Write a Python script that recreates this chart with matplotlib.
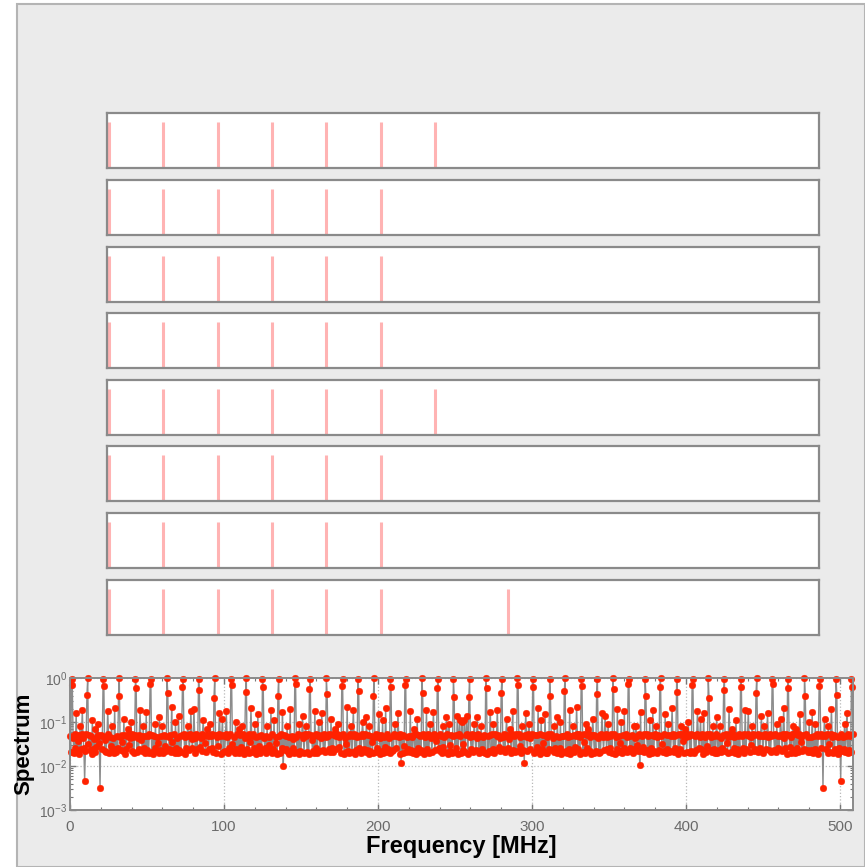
import numpy as np
import matplotlib
matplotlib.use("Agg")
import matplotlib.pyplot as plt
from matplotlib.patches import Rectangle
from matplotlib.ticker import LogLocator, MultipleLocator, NullFormatter

plt.rcParams['font.family'] = ['Liberation Sans', 'DejaVu Sans']

# ---------------- pulse trains (one list per channel) ----------------
pulse_trains = [
    [0.02, 1.01, 2.02, 3.01, 4.01, 5.02, 6.01],
    [0.02, 1.01, 2.02, 3.01, 4.01, 5.02],
    [0.02, 1.01, 2.02, 3.01, 4.01, 5.02],
    [0.02, 1.01, 2.02, 3.01, 4.01, 5.02],
    [0.02, 1.01, 2.02, 3.01, 4.01, 5.02, 6.01],
    [0.02, 1.01, 2.02, 3.01, 4.01, 5.02],
    [0.02, 1.01, 2.02, 3.01, 4.01, 5.02],
    [0.02, 1.01, 2.02, 3.01, 4.01, 5.02, 7.35],
]

# ---------------- spectrum ----------------
freq_step = 0.5  # MHz

# noise floor, in units of 1e-3
floor_milli = [
    48,21,51,23,44,20,52,25,46,22,37,50,19,47,24,53,21,43,26,49,
    22,52,20,45,31,50,23,48,19,51,24,42,21,53,27,46,20,50,34,23,
    50,24,47,19,52,22,40,21,49,25,53,20,46,29,51,22,44,20,52,24,
    21,49,26,53,20,45,23,51,35,22,48,19,50,24,47,21,53,30,43,20,
    52,22,46,20,50,27,53,21,44,24,51,19,38,49,22,52,25,47,20,51,
    23,48,20,53,24,42,21,50,19,47,26,52,22,45,33,20,51,23,49,21,
    46,20,51,28,49,22,53,19,45,24,50,21,47,36,23,52,20,48,25,44,
    20,53,23,47,21,50,32,22,52,19,46,25,51,21,48,23,53,20,42,26,
    51,21,44,20,52,24,48,19,50,27,43,22,53,20,47,34,21,51,24,49,
    24,50,19,48,26,53,21,46,22,51,20,45,28,52,23,49,19,50,37,21,
    47,22,52,21,45,20,50,25,53,19,48,31,22,46,20,51,24,53,21,44,
    20,51,27,49,23,52,19,44,21,50,24,47,20,53,35,22,48,21,52,25,
    53,19,46,22,51,29,47,20,50,23,52,21,43,25,49,20,53,22,45,30,
    22,48,20,52,24,50,21,45,33,19,51,23,47,20,52,26,44,21,50,23,
    49,24,53,21,46,19,51,22,48,25,42,20,52,27,45,21,53,19,47,22,
    21,50,23,44,20,52,26,49,21,53,19,46,24,51,38,22,48,20,52,25,
    52,20,47,25,51,22,43,19,50,23,53,21,46,30,20,49,24,52,21,45,
    25,53,21,50,19,48,24,52,22,45,27,51,20,47,23,53,19,44,32,21,
    45,22,49,20,53,31,21,47,25,52,19,50,23,46,21,51,26,48,20,53,
    20,47,24,52,21,44,23,50,19,53,22,48,36,20,51,24,45,21,52,26,
    51,25,43,19,50,22,53,20,46,27,49,21,52,24,44,20,50,33,22,48,
    23,52,20,48,26,51,21,45,19,53,24,47,20,50,29,22,53,21,46,24,
    48,21,53,23,45,20,50,34,22,52,19,47,25,51,21,49,23,43,20,52,
    19,46,22,51,24,53,20,48,26,44,21,50,19,52,23,47,37,21,53,25,
    53,22,48,20,52,27,45,21,50,24,53,19,46,30,22,51,20,49,24,47,
    21,50,25,44,19,53,22,49,20,52,31,23,47,21,50,26,53,19,45,23,
    46,24,52,21,48,20,51,23,43,28,53,20,49,22,52,24,46,21,50,20,
    25,53,19,47,22,50,35,21,52,24,45,20,53,23,48,19,51,27,44,22,
    50,20,46,24,53,21,48,19,51,26,42,22,50,20,53,32,23,47,21,52,
    22,49,21,52,29,45,20,53,23,48,19,51,25,46,22,52,20,44,24,50,
    53,23,47,20,51,22,50,27,45,21,53,19,48,24,51,33,21,49,20,46,
    20,52,24,49,19,53,23,44,21,50,26,47,20,52,22,45,25,53,19,48,
    47,21,50,31,22,52,20,46,24,53,19,49,23,44,21,51,27,48,20,52,
    24,53,19,45,23,50,21,52,36,20,47,25,51,21,53,22,46,19,50,23,
    51,20,48,22,53,24,44,20,50,21,52,28,46,23,49,20,53,24,45,21,
    21,47,26,52,20,49,22,53,19,45,24,51,21,48,34,22,52,20,50,25,
    49,23,53,21,46,19,51,25,47,22,50,20,53,24,44,21,49,30,22,52,
    20,51,22,48,27,52,21,45,20,53,23,49,19,46,25,51,20,53,22,47,
    53,25,45,20,50,23,52,19,48,32,21,53,22,47,20,50,24,44,21,51,
    22,49,20,53,21,47,26,51,23,45,19,52,24,50,21,53,37,20,48,23,
    46,21,52,24,49,20,53,22,44,25,51,20,47,23,52,19,50,26,45,21,
    24,53,19,50,22,46,21,52,29,48,20,53,23,45,21,51,24,49,20,52,
    50,20,47,23,53,21,44,25,51,19,49,22,52,34,20,46,23,53,21,48,
    21,52,25,45,20,51,24,48,19,53,22,50,21,47,26,52,20,44,24,51,
    53,23,49,21,46,30,20,52,22,50,24,45,19,53,21,48,25,51,20,47,
    20,48,22,53,24,51,19,46,23,52,21,49,33,20,50,23,53,21,45,26,
    47,24,51,20,49,22,53,21,44,25,52,19,48,22,51,27,46,20,53,22,
    23,52,20,47,26,50,21,53,19,45,35,22,51,24,48,20,52,23,46,21,
    51,21,45,23,53,20,48,24,50,22,53,19,47,28,21,52,25,49,20,50,
    22,47,24,52,20,50,31,21,53,23,46,20,51,24,49,21,53,19,45,25,
    49,20,53,22,46,24,51,21,48,32,20,52,23,47,21,50,24,53,
]

# comb lines
peak_freq = [1.0, 11.5, 21.5, 32.0, 42.5, 52.5, 63.0, 73.5, 83.5, 94.0,
             104.5, 114.5, 125.0, 135.5, 146.0, 156.0, 166.5, 177.0, 187.0, 197.5,
             208.0, 218.0, 228.5, 239.0, 249.0, 259.5, 270.0, 280.5, 290.5, 301.0,
             311.5, 321.5, 332.0, 342.5, 352.5, 363.0, 373.5, 383.5, 394.0, 404.5,
             414.5, 425.0, 435.5, 446.0, 456.0, 466.5, 477.0, 487.0, 497.5, 507.5]
peak_val = [0.97, 0.98, 0.95, 0.99, 0.96, 0.93, 0.98, 0.97, 0.94, 0.99,
            0.96, 0.98, 0.95, 0.97, 0.99, 0.94, 0.98, 0.96, 0.93, 0.99,
            0.97, 0.95, 0.98, 0.96, 0.94, 0.97, 0.99, 0.95, 0.98, 0.93,
            0.96, 0.99, 0.97, 0.94, 0.98, 0.95, 0.97, 0.99, 0.96, 0.93,
            0.98, 0.95, 0.97, 0.99, 0.94, 0.96, 0.98, 0.95, 0.97, 0.97]

# samples right next to each comb line
shoulder_freq = [1.5, 11.0, 22.0, 31.5, 43.0, 52.0, 63.5, 73.0, 84.0, 93.5,
                 105.0, 114.0, 125.5, 135.0, 146.5, 155.5, 167.0, 176.5, 187.5, 197.0,
                 208.5, 217.5, 229.0, 238.5, 249.5, 259.0, 270.5, 280.0, 291.0, 300.5,
                 312.0, 321.0, 332.5, 342.0, 353.0, 362.5, 374.0, 383.0, 394.5, 404.0,
                 415.0, 424.5, 436.0, 445.5, 456.5, 466.0, 477.5, 486.5, 498.0, 508.0]
shoulder_val = [0.70, 0.42, 0.66, 0.38, 0.58, 0.72, 0.45, 0.64, 0.52, 0.36,
                0.68, 0.48, 0.61, 0.40, 0.74, 0.55, 0.43, 0.67, 0.50, 0.39,
                0.63, 0.71, 0.46, 0.58, 0.37, 0.37, 0.58, 0.46, 0.71, 0.63,
                0.39, 0.50, 0.67, 0.43, 0.55, 0.74, 0.40, 0.61, 0.48, 0.68,
                0.36, 0.52, 0.64, 0.45, 0.72, 0.58, 0.38, 0.66, 0.42, 0.62]

# side lobes between the comb lines
lobe_freq = [4.0, 6.5, 8.0, 14.5, 16.5, 18.0, 24.5, 27.0, 29.0, 35.0,
             37.5, 39.5, 45.5, 47.5, 49.5, 55.5, 58.0, 60.0, 66.0, 68.5,
             70.5, 76.5, 78.5, 80.5, 86.5, 89.0, 91.0, 97.0, 99.0, 101.5,
             107.5, 109.5, 111.5, 117.5, 120.0, 122.0, 128.0, 130.5, 132.5, 138.0,
             141.0, 143.0, 149.0, 151.0, 153.0, 159.0, 161.5, 163.5, 169.5, 172.0,
             174.0, 180.0, 182.5, 184.0, 190.0, 192.5, 194.5, 200.5, 203.0, 205.0,
             211.0, 213.0, 221.0, 223.5, 225.5, 231.5, 234.0, 236.0, 242.0, 244.5,
             246.0, 251.5, 253.0, 254.5, 256.0, 257.5, 262.5, 264.5, 267.0, 273.0,
             275.0, 277.5, 283.5, 285.5, 287.5, 293.5, 296.0, 298.0, 304.0, 306.0,
             308.5, 314.5, 316.5, 318.5, 324.5, 326.5, 329.0, 335.0, 336.5, 339.5,
             345.5, 347.5, 349.5, 355.5, 358.0, 360.0, 366.0, 367.5, 370.5, 376.5,
             378.5, 380.5, 386.5, 388.5, 391.0, 397.0, 399.5, 401.5, 407.5, 409.5,
             411.5, 417.5, 420.0, 422.0, 428.0, 430.0, 432.5, 438.5, 440.5, 443.0,
             449.0, 451.0, 453.0, 459.0, 461.5, 463.5, 469.5, 471.5, 474.0, 480.0,
             482.0, 484.0, 490.0, 492.5, 494.5, 503.0, 504.5]
lobe_val = [0.16, 0.08, 0.19, 0.11, 0.07, 0.09, 0.18, 0.08, 0.21, 0.12,
            0.07, 0.10, 0.19, 0.08, 0.17, 0.09, 0.13, 0.08, 0.22, 0.10,
            0.14, 0.08, 0.18, 0.20, 0.11, 0.07, 0.09, 0.16, 0.12, 0.18,
            0.10, 0.07, 0.08, 0.21, 0.09, 0.15, 0.08, 0.19, 0.11, 0.17,
            0.08, 0.20, 0.09, 0.14, 0.08, 0.18, 0.10, 0.16, 0.12, 0.07,
            0.09, 0.22, 0.08, 0.19, 0.10, 0.13, 0.08, 0.15, 0.11, 0.21,
            0.09, 0.16, 0.18, 0.07, 0.12, 0.19, 0.09, 0.17, 0.08, 0.13,
            0.09, 0.14, 0.11, 0.10, 0.11, 0.14, 0.09, 0.13, 0.08, 0.17,
            0.09, 0.19, 0.12, 0.07, 0.18, 0.08, 0.16, 0.09, 0.21, 0.11,
            0.15, 0.08, 0.13, 0.10, 0.19, 0.08, 0.22, 0.09, 0.07, 0.12,
            0.16, 0.14, 0.09, 0.20, 0.10, 0.18, 0.08, 0.08, 0.17, 0.11,
            0.19, 0.08, 0.15, 0.09, 0.21, 0.08, 0.07, 0.10, 0.18, 0.12,
            0.16, 0.08, 0.13, 0.08, 0.20, 0.07, 0.11, 0.19, 0.18, 0.08,
            0.14, 0.08, 0.16, 0.09, 0.12, 0.21, 0.08, 0.07, 0.15, 0.10,
            0.17, 0.09, 0.12, 0.08, 0.20, 0.09, 0.16]

# deep notches
dip_freq = [9.5, 19.5, 138.5, 215.0, 295.0, 370.0, 489.0, 500.5]
dip_val = [0.0046, 0.0032, 0.010, 0.012, 0.012, 0.0105, 0.0032, 0.0046]

# assemble the sampled spectrum
freq = np.arange(len(floor_milli)) * freq_step
spectrum = np.array(floor_milli, dtype=float) / 1000.0
for fl, vl in ((lobe_freq, lobe_val), (shoulder_freq, shoulder_val),
               (peak_freq, peak_val), (dip_freq, dip_val)):
    idx = np.round(np.array(fl) / freq_step).astype(int)
    spectrum[idx] = vl

# ---------------- figure ----------------
W, H = 865, 867
fig = plt.figure(figsize=(W / 100, H / 100), dpi=100)
fig.patch.set_facecolor('white')
fig.patches.append(Rectangle((17 / W, 0), 1 - 17 / W, 1 - 4 / H,
                             transform=fig.transFigure, facecolor='#ebebeb',
                             edgecolor='#b4b4b4', linewidth=1.5, zorder=-10))

def px_axes(x0, y0, x1, y1):
    return fig.add_axes([x0 / W, 1 - y1 / H, (x1 - x0) / W, (y1 - y0) / H])

panel_tops = [113, 180, 247, 313, 380, 446, 513, 580]
for top, pulses in zip(panel_tops, pulse_trains):
    ax = px_axes(107, top, 819, top + 55)
    ax.set_xlim(-0.02, 13.07)
    ax.set_ylim(0, 1.2)
    ax.vlines(pulses, 0, 1.0, colors='#ffb3b3', linewidth=2.2)
    ax.set_xticks([])
    ax.set_yticks([])
    for s in ax.spines.values():
        s.set_color('#8a8a8a')
        s.set_linewidth(1.6)

# spectrum panel
ax = px_axes(70, 678, 853, 810)
ax.semilogy(freq, spectrum, color='#8c8c8c', linewidth=1.0,
            marker='o', markersize=4.8, markerfacecolor='#ff2200',
            markeredgecolor='#ff2200', markeredgewidth=0.3, clip_on=False)
ax.set_xlim(0, 508.5)
ax.set_ylim(1e-3, 1)
ax.xaxis.set_major_locator(MultipleLocator(100))
ax.xaxis.set_minor_locator(MultipleLocator(20))
ax.yaxis.set_major_locator(LogLocator(base=10, numticks=10))
ax.yaxis.set_minor_locator(LogLocator(base=10, subs=np.arange(2, 10), numticks=20))
ax.yaxis.set_minor_formatter(NullFormatter())
ax.grid(True, which='major', color='#b8b8b8', linestyle=':', linewidth=0.9)
ax.tick_params(which='both', direction='in', top=True, right=True,
               colors='#777777', labelcolor='#6a6a6a', labelsize=11)
ax.tick_params(axis='y', labelsize=10)
ax.tick_params(which='major', length=4, width=1)
ax.tick_params(axis='x', which='major', pad=7)
ax.tick_params(axis='y', which='major', pad=2)
ax.tick_params(which='minor', length=2, width=0.8)
for s in ax.spines.values():
    s.set_color('#8a8a8a')
    s.set_linewidth(1.4)
ax.set_xlabel('Frequency [MHz]', fontsize=17, fontweight='bold')
ax.set_ylabel('Spectrum', fontsize=16, fontweight='bold')
ax.xaxis.set_label_coords(0.5, -0.19)
ax.yaxis.set_label_coords(-0.045, 0.5)

fig.savefig('out.png', dpi=100, facecolor=fig.get_facecolor())
